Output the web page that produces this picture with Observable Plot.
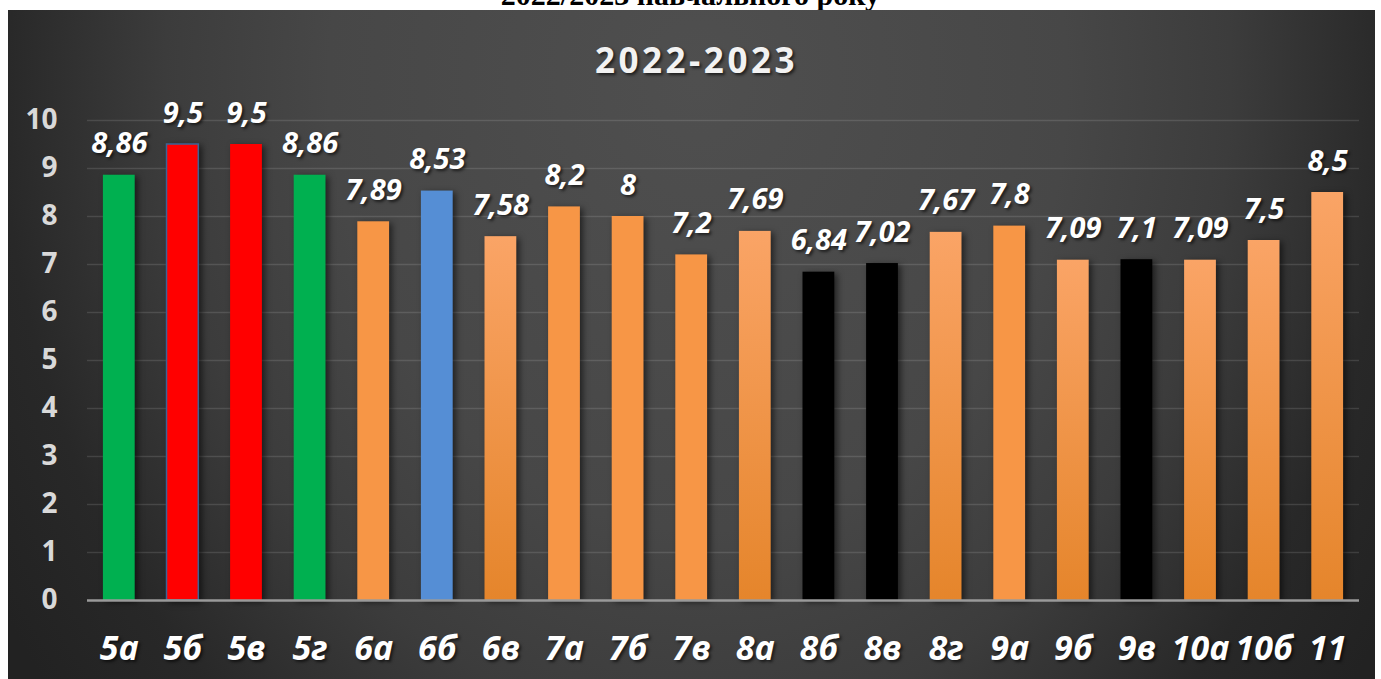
<!DOCTYPE html>
<html>
<head>
<meta charset="utf-8">
<script src="https://cdn.jsdelivr.net/npm/d3@7"></script>
<script src="https://cdn.jsdelivr.net/npm/@observablehq/plot@0.6"></script>
<style>
  html, body { margin: 0; padding: 0; background: #ffffff; width: 1381px; height: 679px; overflow: hidden; }
  #cut { position: absolute; left: 0; width: 1381px; top: -20px; text-align: center; padding-left: 0px;
         font: bold 30px "Liberation Serif", "Times New Roman", serif; line-height: 30px; color: #000; z-index: 0; }
  #panel { position: absolute; left: 8px; top: 10px; width: 1367px; height: 669px; z-index: 1;
           background: radial-gradient(ellipse 820px 1000px at 690px 70px, #4f4f4f 0%, #474747 45%, #3c3c3c 65%, #282828 85%, #222222 100%); }
  #title { position: absolute; left: 0; width: 1367px; top: 28px; text-align: center; padding-left: 10px; box-sizing: border-box;
           font: bold 35px "Open Sans", sans-serif; letter-spacing: 3.5px; color: #f2f2f2; line-height: 44px;
           text-shadow: 2px 2px 3px rgba(0,0,0,0.6); }
  #chart { position: absolute; left: 0; top: 0; }
</style>
</head>
<body>
<div id="cut">2022/2023 навчального року</div>
<div id="panel">
  <div id="title">2022-2023</div>
  <div id="chart"></div>
</div>
<script>
// ---- data ----
const classes = ["5а","5б","5в","5г","6а","6б","6в","7а","7б","7в","8а","8б","8в","8г","9а","9б","9в","10а","10б","11"];
const values  = [8.86, 9.5, 9.5, 8.86, 7.89, 8.53, 7.58, 8.2, 8, 7.2, 7.69, 6.84, 7.02, 7.67, 7.8, 7.09, 7.1, 7.09, 7.5, 8.5];
const labels  = ["8,86","9,5","9,5","8,86","7,89","8,53","7,58","8,2","8","7,2","7,69","6,84","7,02","7,67","7,8","7,09","7,1","7,09","7,5","8,5"];
const groups  = ["green","red","red","green","orange","blue","orangeGrad","orange","orange","orange","orangeGrad","black","black","orangeGrad","orange","orangeGrad","black","orangeGrad","orangeGrad","orangeGrad"];
const yTicks  = [0,1,2,3,4,5,6,7,8,9,10];

// ---- styles ----
const colorMap = {
  green: "#00B050", red: "#FF0000", blue: "#558ED5", black: "#000000",
  orange: "#F79646", orangeGrad: "url(#orangeGrad)"
};

const data = classes.map((c, i) => ({cls: c, v: values[i], label: labels[i], group: groups[i]}));

const svg = Plot.plot({
  width: 1367, height: 669,
  marginLeft: 79, marginRight: 16, marginTop: 110, marginBottom: 79,
  style: {background: "transparent", overflow: "visible"},
  x: {domain: classes, paddingInner: 0.5, paddingOuter: 0.25, round: false, axis: null},
  y: {domain: [0, 10]},
  color: {type: "identity"},
  marks: [
    Plot.ruleY(yTicks.filter(t => t > 0), {stroke: "#ffffff", strokeOpacity: 0.12, strokeWidth: 1.5}),
    Plot.barY(data, {
      x: "cls", y: "v",
      fill: d => colorMap[d.group],
      stroke: d => d.cls === "5б" ? "#3B6496" : "none",
      strokeWidth: 1.5
    }),
    Plot.ruleY([0], {stroke: "#9a9a9a", strokeWidth: 2.5}),
    Plot.axisY({
      ticks: yTicks, tickSize: 0, tickPadding: 30, label: null,
      tickFormat: d => String(d),
      fontSize: 28, fontWeight: "bold", fontFamily: "Open Sans", color: "#d9d9d9"
    }),
    Plot.text(data, {
      x: "cls", y: "v", text: "label",
      lineAnchor: "bottom", dy: -22,
      fill: "#ffffff", fontSize: 29, fontWeight: "bold", fontStyle: "italic", fontFamily: "Open Sans"
    }),
    Plot.text(classes, {
      x: d => d, text: d => d,
      frameAnchor: "bottom", lineAnchor: "bottom", dy: 59,
      fill: "#ffffff", fontSize: 34, fontWeight: "bold", fontStyle: "italic", fontFamily: "Open Sans"
    })
  ]
});

const s = d3.select(svg);
s.insert("defs", ":first-child").html(
  '<linearGradient id="orangeGrad" x1="0" y1="0" x2="0" y2="1">' +
  '<stop offset="0" stop-color="#FAA466"/><stop offset="1" stop-color="#E5852B"/></linearGradient>'
);
s.selectAll('g[aria-label="bar"] rect').style("filter", "drop-shadow(3px 2px 3px rgba(0,0,0,0.55))");
s.selectAll('g[aria-label="text"] text').style("text-shadow", "2px 2px 3px rgba(0,0,0,0.6)");
document.getElementById("chart").appendChild(svg);
</script>
</body>
</html>
